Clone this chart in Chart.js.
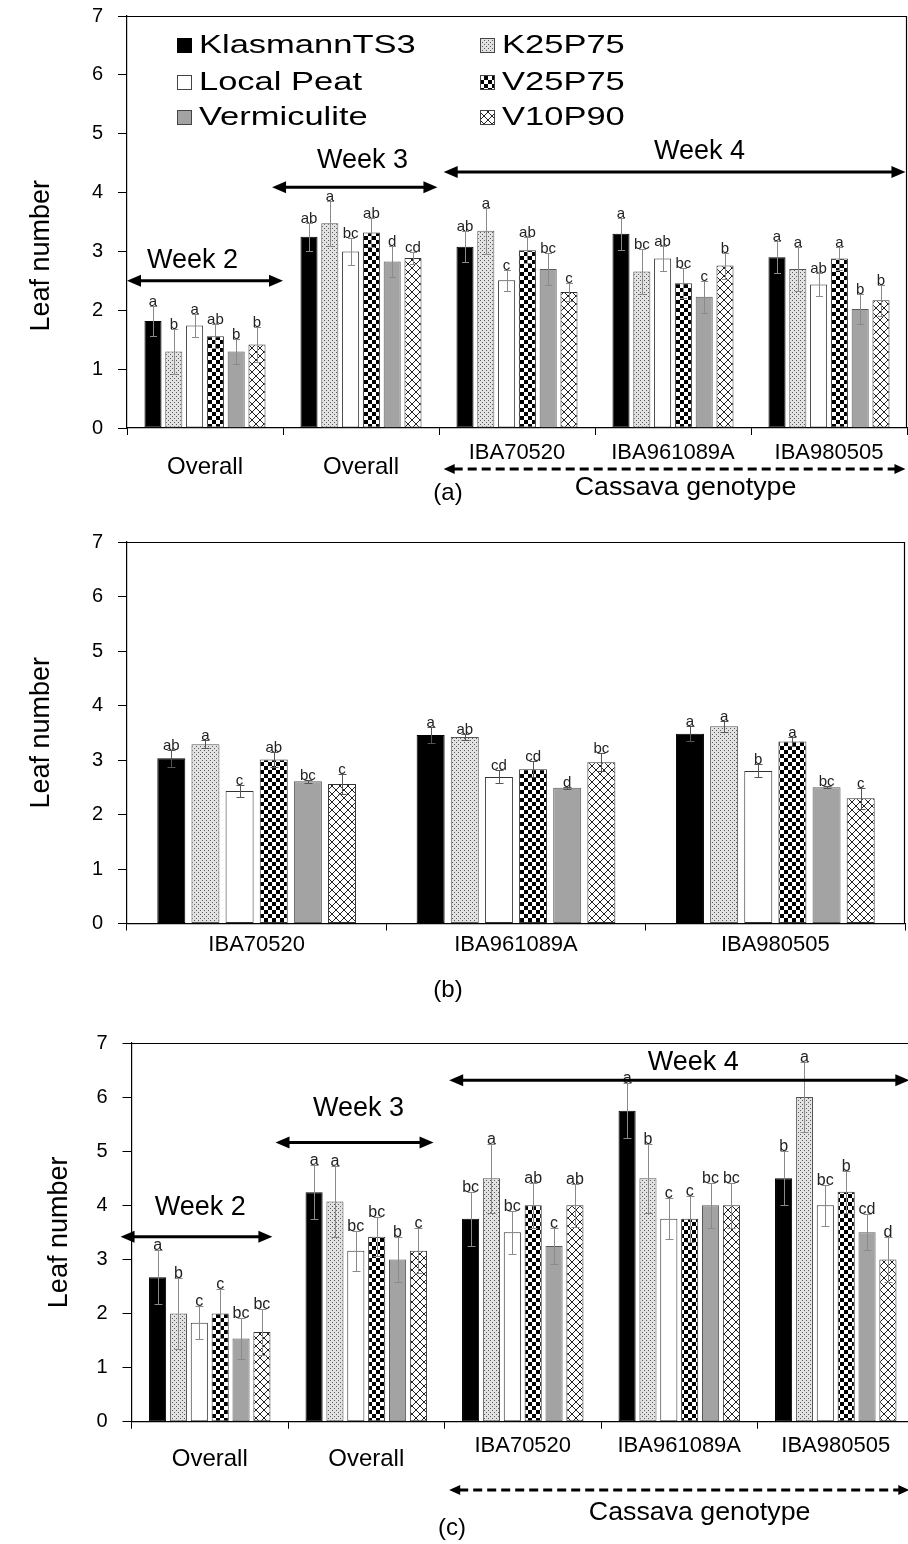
<!DOCTYPE html>
<html><head><meta charset="utf-8">
<script src="https://cdn.jsdelivr.net/npm/chart.js@4.4.1/dist/chart.umd.min.js"></script>
<style>
html,body{margin:0;padding:0;background:#fff;overflow:hidden;}
body{width:908px;height:1544px;position:relative;}
canvas{position:absolute;left:0;}
</style></head><body>
<canvas id="ca" width="908" height="510" style="top:0px;width:908px;height:510px"></canvas>
<canvas id="cb" width="908" height="500" style="top:510px;width:908px;height:500px"></canvas>
<canvas id="cc" width="914" height="534" style="top:1010px;width:914px;height:534px"></canvas>
<script>
// ---------------- DATA ----------------
const seriesNames = ['KlasmannTS3','K25P75','Local Peat','V25P75','Vermiculite','V10P90'];
const catsA = ['Overall','Overall','IBA70520','IBA961089A','IBA980505'];
const catsB = ['IBA70520','IBA961089A','IBA980505'];
const catsC = ['Overall','Overall','IBA70520','IBA961089A','IBA980505'];
const yMin = 0, yMax = 7, yStep = 1;
const yTitle = 'Leaf number';

// Panel (a) means
const aKlasmannTS3 = [1.82, 3.25, 3.08, 3.30, 2.90];
const aK25P75      = [1.30, 3.48, 3.35, 2.66, 2.70];
const aLocalPeat   = [1.74, 3.00, 2.51, 2.88, 2.44];
const aV25P75      = [1.56, 3.32, 3.02, 2.46, 2.88];
const aVermiculite = [1.30, 2.83, 2.70, 2.23, 2.02];
const aV10P90      = [1.42, 2.89, 2.31, 2.76, 2.17];
// Panel (a) standard errors
const aErrKlasmannTS3 = [0.25, 0.24, 0.26, 0.27, 0.27];
const aErrK25P75      = [0.38, 0.38, 0.39, 0.38, 0.38];
const aErrLocalPeat   = [0.20, 0.23, 0.18, 0.21, 0.20];
const aErrV25P75      = [0.20, 0.25, 0.22, 0.25, 0.20];
const aErrVermiculite = [0.22, 0.27, 0.27, 0.27, 0.25];
const aErrV10P90      = [0.30, 0.10, 0.15, 0.22, 0.26];
// Panel (a) letters
const aLetKlasmannTS3 = ['a','ab','ab','a','a'];
const aLetK25P75      = ['b','a','a','bc','a'];
const aLetLocalPeat   = ['a','bc','c','ab','ab'];
const aLetV25P75      = ['ab','ab','ab','bc','a'];
const aLetVermiculite = ['b','d','bc','c','b'];
const aLetV10P90      = ['b','cd','c','b','b'];

// Panel (b) means
const bKlasmannTS3 = [3.03, 3.46, 3.48];
const bK25P75      = [3.29, 3.42, 3.62];
const bLocalPeat   = [2.43, 2.69, 2.80];
const bV25P75      = [3.01, 2.83, 3.34];
const bVermiculite = [2.61, 2.49, 2.50];
const bV10P90      = [2.56, 2.96, 2.30];
// Panel (b) standard errors
const bErrKlasmannTS3 = [0.15, 0.14, 0.14];
const bErrK25P75      = [0.07, 0.05, 0.10];
const bErrLocalPeat   = [0.11, 0.12, 0.12];
const bErrV25P75      = [0.14, 0.15, 0.09];
const bErrVermiculite = [0.03, 0.02, 0.02];
const bErrV10P90      = [0.18, 0.16, 0.19];
// Panel (b) letters
const bLetKlasmannTS3 = ['ab','a','a'];
const bLetK25P75      = ['a','ab','a'];
const bLetLocalPeat   = ['c','cd','b'];
const bLetV25P75      = ['ab','cd','a'];
const bLetVermiculite = ['bc','d','bc'];
const bLetV10P90      = ['c','bc','c'];

// Panel (c) means
const cKlasmannTS3 = [2.67, 4.24, 3.75, 5.75, 4.50];
const cK25P75      = [2.00, 4.07, 4.50, 4.50, 6.00];
const cLocalPeat   = [1.83, 3.16, 3.50, 3.75, 4.00];
const cV25P75      = [2.00, 3.42, 4.00, 3.75, 4.25];
const cVermiculite = [1.54, 3.00, 3.25, 4.00, 3.50];
const cV10P90      = [1.66, 3.16, 4.00, 4.00, 3.00];
// Panel (c) standard errors
const cErrKlasmannTS3 = [0.50, 0.50, 0.50, 0.51, 0.50];
const cErrK25P75      = [0.65, 0.65, 0.64, 0.64, 0.64];
const cErrLocalPeat   = [0.30, 0.37, 0.40, 0.38, 0.38];
const cErrV25P75      = [0.45, 0.36, 0.42, 0.42, 0.39];
const cErrVermiculite = [0.38, 0.42, 0.33, 0.42, 0.33];
const cErrV10P90      = [0.43, 0.42, 0.40, 0.42, 0.42];
// Panel (c) letters
const cLetKlasmannTS3 = ['a','a','bc','a','b'];
const cLetK25P75      = ['b','a','a','b','a'];
const cLetLocalPeat   = ['c','bc','bc','c','bc'];
const cLetV25P75      = ['c','bc','ab','c','b'];
const cLetVermiculite = ['bc','b','c','bc','cd'];
const cLetV10P90      = ['bc','c','ab','bc','d'];

// ---------------- STYLE ----------------
Chart.defaults.font.family = "'Liberation Sans', Arial, Helvetica, sans-serif";
Chart.defaults.color = '#000';
const FAM = "'Liberation Sans', Arial, sans-serif";

function makeFills(canvasId){
  const tctx = document.getElementById(canvasId).getContext('2d');
  function tile(w, draw){ const c=document.createElement('canvas'); c.width=w; c.height=w; const x=c.getContext('2d'); draw(x); return tctx.createPattern(c,'repeat'); }
  const dots = tile(4, x=>{ x.fillStyle='#e2e2e2'; x.fillRect(0,0,4,4); x.fillStyle='#5a5a5a'; x.fillRect(0,0,1,1); x.fillRect(2,2,1,1); });
  const check = tile(8, x=>{ x.fillStyle='#fff'; x.fillRect(0,0,8,8); x.fillStyle='#000'; x.fillRect(0,0,4,4); x.fillRect(4,4,4,4); });
  const cross = tile(8, x=>{ x.fillStyle='#fff'; x.fillRect(0,0,8,8); x.strokeStyle='#222'; x.lineWidth=1; x.beginPath(); x.moveTo(0,0); x.lineTo(8,8); x.moveTo(8,0); x.lineTo(0,8); x.stroke(); });
  return ['#000000', dots, '#ffffff', check, '#a3a3a3', cross];
}
const borders = ['#000','#555','#333','#333','#5a5a5a','#333'];

function buildDatasets(canvasId, vals, errs, lets, catPct, barPct){
  const fills = makeFills(canvasId);
  return seriesNames.map((name,i)=>({
    label:name, data:vals[i], errors:errs[i], letters:lets[i],
    backgroundColor:fills[i], borderColor:borders[i], borderWidth:1, borderSkipped:false,
    categoryPercentage:catPct, barPercentage:barPct
  }));
}

function drawText(ctx, str, x, y, font, sx, align){
  ctx.save(); ctx.font=font; ctx.textAlign=align||'center'; ctx.textBaseline='middle'; ctx.fillStyle='#000';
  ctx.translate(x,y); ctx.scale(sx||1,1); ctx.fillText(str,0,0); ctx.restore();
}
function arrow(ctx,x1,x2,y,dashed,hl,hw,lw){
  ctx.save(); ctx.strokeStyle='#000'; ctx.fillStyle='#000'; ctx.lineWidth=lw;
  if(dashed) ctx.setLineDash([9,5]);
  ctx.beginPath(); ctx.moveTo(x1+hl-1,y); ctx.lineTo(x2-hl+1,y); ctx.stroke();
  ctx.setLineDash([]);
  ctx.beginPath(); ctx.moveTo(x1,y); ctx.lineTo(x1+hl,y-hw); ctx.lineTo(x1+hl,y+hw); ctx.closePath(); ctx.fill();
  ctx.beginPath(); ctx.moveTo(x2,y); ctx.lineTo(x2-hl,y-hw); ctx.lineTo(x2-hl,y+hw); ctx.closePath(); ctx.fill();
  ctx.restore();
}

const errPlugin = {
  id:'errbars',
  afterDatasetsDraw(chart, args, o){
    const ctx=chart.ctx, ys=chart.scales.y;
    ctx.save();
    chart.data.datasets.forEach((ds,di)=>{
      const meta=chart.getDatasetMeta(di);
      meta.data.forEach((bar,i)=>{
        const v=ds.data[i], e=ds.errors[i];
        const x=Math.round(bar.x)+0.5;
        const yt=Math.round(ys.getPixelForValue(v+e))+0.5, yb=Math.round(ys.getPixelForValue(v-e))+0.5;
        ctx.strokeStyle=o.color; ctx.lineWidth=1;
        ctx.beginPath();
        ctx.moveTo(x,yt); ctx.lineTo(x,yb);
        ctx.moveTo(x-o.cap,yt); ctx.lineTo(x+o.cap,yt);
        ctx.moveTo(x-o.cap,yb); ctx.lineTo(x+o.cap,yb);
        ctx.stroke();
        ctx.fillStyle='#222'; ctx.font=o.letterFont; ctx.textAlign='center'; ctx.textBaseline='bottom';
        ctx.fillText(ds.letters[i], bar.x, yt+3);
      });
    });
    ctx.restore();
  }
};

const annotPlugin = {
  id:'annot',
  afterDraw(chart, args, o){
    const ctx=chart.ctx, xs=chart.scales.x, ys=chart.scales.y, ca=chart.chartArea;
    ctx.save(); ctx.strokeStyle='#000'; ctx.lineWidth=1.2;
    ctx.beginPath(); ctx.moveTo(ca.left, ca.top+0.5); ctx.lineTo(ca.right-0.5, ca.top+0.5); ctx.lineTo(ca.right-0.5, ca.bottom); ctx.stroke();
    ctx.restore();
    (o.weeks||[]).forEach(w=>{
      arrow(ctx, xs.getPixelForValue(w.from), xs.getPixelForValue(w.to), ys.getPixelForValue(w.y), false, 14, 6, 3);
      drawText(ctx, w.text, xs.getPixelForValue(w.tx), ys.getPixelForValue(w.ty), '27px '+FAM, 1);
    });
    if(o.genotype){
      const g=o.genotype;
      arrow(ctx, xs.getPixelForValue(g.from), xs.getPixelForValue(g.to), g.y, true, 11, 5, 3);
      drawText(ctx, g.text, xs.getPixelForValue(g.tx), g.ty, '25px '+FAM, 1.07);
    }
    if(o.panel){ drawText(ctx, o.panel.text, o.panel.x, o.panel.y, '24px '+FAM, 1); }
  }
};

const legendPlugin = {
  id:'insideLegend',
  afterDraw(chart, args, o){
    if(!o.order) return;
    const ctx=chart.ctx, ca=chart.chartArea;
    o.order.forEach((di,k)=>{
      const col=Math.floor(k/3), row=k%3, ds=chart.data.datasets[di];
      const sx=ca.left+o.colX[col], sy=Math.round(ca.top+o.rowY[row]);
      ctx.save();
      ctx.fillStyle=ds.backgroundColor; ctx.fillRect(sx, sy-7, 15, 15);
      ctx.strokeStyle=(di===0?'#000':'#444'); ctx.lineWidth=1; ctx.strokeRect(sx+0.5, sy-6.5, 14, 14);
      ctx.restore();
      drawText(ctx, ds.label, sx+22, sy+1, '25px '+FAM, 1.38, 'left');
    });
  }
};

function makeChart(id, cats, datasets, p){
  const titleText = p.titleSpaces ? yTitle + ' '.repeat(p.titleSpaces) : yTitle;
  return new Chart(document.getElementById(id), {
    type:'bar',
    data:{labels:cats, datasets:datasets},
    plugins:[errPlugin, annotPlugin, legendPlugin],
    options:{
      responsive:false, animation:false, devicePixelRatio:1,
      layout:{padding:{top:p.top, right:p.right, left:0, bottom:0}},
      plugins:{
        legend:{display:false}, tooltip:{enabled:false},
        errbars:{color:p.errColor, cap:p.cap, letterFont:p.letterSize+'px '+FAM},
        annot:p.annot,
        insideLegend:p.legend||{}
      },
      scales:{
        x:{
          grid:{display:true, drawOnChartArea:false, drawTicks:true, tickLength:7, color:'#000', offset:true, lineWidth:1},
          border:{display:true, color:'#000', width:1.2},
          ticks:{padding:p.xPad, color:'#000', autoSkip:false, maxRotation:0,
            font:(c)=> cats[c.index]==='Overall' ? {size:p.bigSize, lineHeight:p.bigLH+'px'} : {size:p.smallSize, lineHeight:p.smallLH+'px'}},
          afterFit:(s)=>{ s.height=p.xHeight; s.paddingLeft=0; s.paddingRight=0; }
        },
        y:{
          min:yMin, max:yMax,
          ticks:{stepSize:yStep, padding:15, color:'#000', font:{size:20}},
          grid:{display:true, drawOnChartArea:false, drawTicks:true, tickLength:9, color:'#000'},
          border:{display:true, color:'#000', width:1.2},
          title:{display:true, text:titleText, color:'#000', font:{size:27}, padding:{top:p.titlePad, bottom:0}},
          afterFit:(s)=>{ s.width=p.yWidth; s.paddingTop=0; s.paddingBottom=0; }
        }
      }
    }
  });
}

// Panel (a)
makeChart('ca', catsA,
  buildDatasets('ca',
    [aKlasmannTS3,aK25P75,aLocalPeat,aV25P75,aVermiculite,aV10P90],
    [aErrKlasmannTS3,aErrK25P75,aErrLocalPeat,aErrV25P75,aErrVermiculite,aErrV10P90],
    [aLetKlasmannTS3,aLetK25P75,aLetLocalPeat,aLetV25P75,aLetVermiculite,aLetV10P90], 0.8, 0.82),
  {top:16, right:1, xHeight:82, yWidth:127, titlePad:25.8, titleSpaces:9, xPad:8,
   bigSize:24, bigLH:48, smallSize:22, smallLH:20, errColor:'#8a8a8a', cap:3.5, letterSize:15,
   legend:{order:[0,2,4,1,3,5], colX:[50,353], rowY:[29,66,101]},
   annot:{
     weeks:[{text:'Week 2', from:-0.5, to:0.5, y:2.5, tx:-0.08, ty:2.85},
            {text:'Week 3', from:0.43, to:1.49, y:4.09, tx:1.01, ty:4.55},
            {text:'Week 4', from:1.53, to:4.49, y:4.35, tx:3.17, ty:4.70}],
     genotype:{text:'Cassava genotype', from:1.53, to:4.49, y:469, tx:3.08, ty:488},
     panel:{text:'(a)', x:448, y:493}
   }});

// Panel (b)
makeChart('cb', catsB,
  buildDatasets('cb',
    [bKlasmannTS3,bK25P75,bLocalPeat,bV25P75,bVermiculite,bV10P90],
    [bErrKlasmannTS3,bErrK25P75,bErrLocalPeat,bErrV25P75,bErrVermiculite,bErrV10P90],
    [bLetKlasmannTS3,bLetK25P75,bLetLocalPeat,bLetV25P75,bLetVermiculite,bLetV10P90], 0.79, 0.82),
  {top:32, right:3, xHeight:86.5, yWidth:127, titlePad:25.8, xPad:2.5,
   bigSize:24, bigLH:48, smallSize:22, smallLH:24, errColor:'#555', cap:4, letterSize:15,
   annot:{ panel:{text:'(b)', x:448, y:480} }});

// Panel (c)  (its plot runs past the right edge of the page, as in the original figure)
makeChart('cc', catsC,
  buildDatasets('cc',
    [cKlasmannTS3,cK25P75,cLocalPeat,cV25P75,cVermiculite,cV10P90],
    [cErrKlasmannTS3,cErrK25P75,cErrLocalPeat,cErrV25P75,cErrVermiculite,cErrV10P90],
    [cLetKlasmannTS3,cLetK25P75,cLetLocalPeat,cLetV25P75,cLetVermiculite,cLetV10P90], 0.8, 0.82),
  {top:33, right:0, xHeight:122.3, yWidth:131.5, titlePad:43.8, xPad:7.3,
   bigSize:24, bigLH:46, smallSize:22, smallLH:20, errColor:'#8a8a8a', cap:4, letterSize:16,
   annot:{
     weeks:[{text:'Week 2', from:-0.57, to:0.40, y:3.42, tx:-0.06, ty:3.95},
            {text:'Week 3', from:0.42, to:1.43, y:5.16, tx:0.95, ty:5.79},
            {text:'Week 4', from:1.53, to:4.47, y:6.31, tx:3.09, ty:6.64}],
     genotype:{text:'Cassava genotype', from:1.53, to:4.47, y:480, tx:3.13, ty:503},
     panel:{text:'(c)', x:452, y:518}
   }});
</script>
</body></html>
